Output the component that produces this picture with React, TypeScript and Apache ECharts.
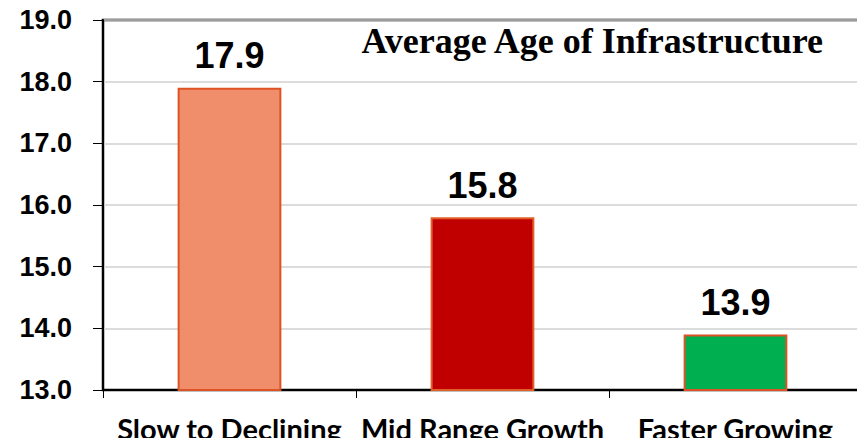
import React, { useEffect, useRef } from "react";
import * as echarts from "echarts";

const categories = ["Slow to Declining", "Mid Range Growth", "Faster Growing"];
const values = [17.9, 15.8, 13.9];
const fillColors = ["#F08E6B", "#C00000", "#00B050"];
const borderColors = ["#DE5325", "#E0602A", "#DE5325"];
const titleText = "Average Age of Infrastructure";

export default function App() {
  const ref = useRef<HTMLDivElement>(null);
  useEffect(() => {
    const chart = echarts.init(ref.current!, null, { renderer: "svg" });
    chart.setOption({
      animation: false,
      title: {
        text: titleText,
        right: 40,
        top: 23,
        padding: 0,
        textStyle: {
          fontFamily: "Liberation Serif",
          fontWeight: "bold",
          fontSize: 36,
          color: "#000",
        },
      },
      grid: {
        left: 103,
        right: 3,
        top: 20,
        bottom: 56,
        show: true,
        borderColor: "#000",
        borderWidth: 2.5,
        backgroundColor: "transparent",
      },
      xAxis: {
        type: "category",
        data: categories,
        axisLine: { lineStyle: { color: "#000", width: 2 } },
        axisTick: { show: true, length: 8, lineStyle: { color: "#000", width: 1 } },
        axisLabel: {
          fontFamily: "Lato",
          fontWeight: "bold",
          fontSize: 29,
          color: "#000",
          margin: 24,
          interval: 0,
        },
      },
      yAxis: {
        type: "value",
        min: 13,
        max: 19,
        interval: 1,
        axisLine: { show: true, lineStyle: { color: "#000", width: 2 } },
        axisTick: { show: true, length: 10, lineStyle: { color: "#000", width: 1 } },
        splitLine: { lineStyle: { color: "#D0D0D0", width: 1.5 } },
        axisLabel: {
          fontFamily: "Liberation Sans",
          fontWeight: "bold",
          fontSize: 27,
          color: "#000",
          margin: 31,
          formatter: (v: number) => v.toFixed(1),
        },
      },
      series: [
        {
          type: "bar",
          barWidth: "41%",
          data: values.map((v, i) => ({
            value: v,
            itemStyle: {
              color: fillColors[i],
              borderColor: borderColors[i],
              borderWidth: 2,
            },
          })),
          label: {
            show: true,
            position: "top",
            distance: 14,
            fontFamily: "Liberation Sans",
            fontWeight: "bold",
            fontSize: 36,
            color: "#000",
            formatter: (p: any) => Number(p.value).toFixed(1),
          },
        },
      ],
    });
    return () => chart.dispose();
  }, []);
  return <div ref={ref} style={{ width: 865, height: 446, margin: -8 }} />;
}
